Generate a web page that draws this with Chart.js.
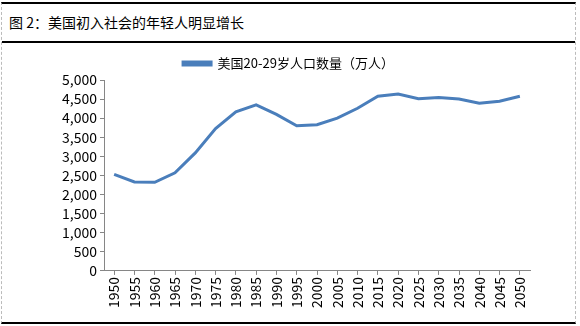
<!DOCTYPE html>
<html>
<head>
<meta charset="utf-8">
<script src="https://cdn.jsdelivr.net/npm/chart.js@4/dist/chart.umd.min.js"></script>
<style>
    body { margin: 0; background: #fff; }
    .frame {
        position: relative;
        width: 573px;
        height: 318px;
        margin: 2px 0 0 1px;
        border-top: 2px solid #000;
        border-bottom: 2px solid #000;
        border-left: 1px dashed #bbb;
        border-right: 1px dashed #bbb;
        font-family: "Noto Sans CJK SC", sans-serif;
    }
    .title {
        height: 37px;
        line-height: 37px;
        padding-left: 7px;
        font-size: 14px;
        color: #000;
        border-bottom: 2px solid #000;
    }
    .chart-box { position: absolute; left: 0; top: 40px; width: 573px; height: 278px; }
</style>
</head>
<body>
<div class="frame">
    <div class="title">图 2：美国初入社会的年轻人明显增长</div>
    <div class="chart-box"><canvas id="youthChart"></canvas></div>
</div>
<script>
// Data
const years = ['1950', '1955', '1960', '1965', '1970', '1975', '1980', '1985', '1990', '1995', '2000',
    '2005', '2010', '2015', '2020', '2025', '2030', '2035', '2040', '2045', '2050'];
const youthPop = [2530, 2330, 2320, 2570, 3090, 3730, 4165, 4350, 4100, 3800, 3830,
    4000, 4260, 4575, 4630, 4510, 4540, 4500, 4390, 4445, 4575];
const seriesName = '美国20-29岁人口数量（万人）';

const axisGray = '#868686';
const tickFont = { family: '"Noto Sans CJK SC", sans-serif', size: 14 };

const ctx = document.getElementById('youthChart').getContext('2d');
new Chart(ctx, {
    type: 'line',
    data: {
        labels: years,
        datasets: [{
            label: seriesName,
            data: youthPop,
            borderColor: '#4a7ebb',
            backgroundColor: '#4a7ebb',
            borderWidth: 3,
            pointRadius: 0,
            tension: 0
        }]
    },
    options: {
        responsive: true,
        maintainAspectRatio: false,
        animation: false,
        layout: { padding: { left: 0, right: 0, top: 6, bottom: 12 } },
        plugins: {
            legend: {
                labels: {
                    boxWidth: 28,
                    boxHeight: 3,
                    color: '#000',
                    font: { family: tickFont.family, size: 13 },
                    padding: 7
                }
            },
            tooltip: { enabled: false }
        },
        scales: {
            x: {
                offset: true,
                grid: { drawOnChartArea: false, color: axisGray, tickLength: 4 },
                border: { color: axisGray },
                ticks: { color: '#000', font: tickFont, minRotation: 90, maxRotation: 90, padding: 2, autoSkip: false }
            },
            y: {
                min: 0,
                max: 5000,
                afterFit: (scale) => { scale.width = 102; },
                grid: { drawOnChartArea: false, color: axisGray, tickLength: 4 },
                border: { color: axisGray },
                ticks: {
                    stepSize: 500,
                    autoSkip: false,
                    color: '#000',
                    font: tickFont,
                    padding: 3,
                    callback: (v) => v.toLocaleString('en-US')
                }
            },
            // empty right-hand spacer so the legend stays centred on the whole width
            spacer: {
                position: 'right',
                min: 0,
                max: 1,
                afterFit: (scale) => { scale.width = 45; },
                grid: { display: false },
                border: { display: false },
                ticks: { display: false }
            }
        }
    }
});
</script>
</body>
</html>
